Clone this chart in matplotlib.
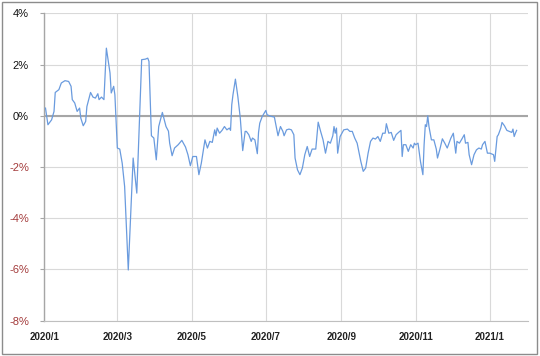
import matplotlib
matplotlib.use("Agg")
import matplotlib.pyplot as plt
import matplotlib.dates as mdates
from matplotlib.patches import Rectangle
import pandas as pd

# x values: days since 2020-01-01 ; y values: percent
day_offset = [1, 3, 6, 8, 9, 12, 14, 17, 20, 22, 23, 25, 27, 29, 30, 32, 34, 35, 38, 40,
              42, 44, 45, 47, 49, 51, 54, 55, 57, 58, 60, 62, 64, 66, 69, 73, 76, 80, 83, 85,
              86, 88, 90, 92, 94, 97, 100, 102, 103, 105, 107, 110, 113, 116, 118, 120, 122, 125, 127, 129,
              132, 134, 136, 138, 140, 141, 142, 144, 146, 148, 150, 152, 153, 154, 155, 157, 159, 161, 162, 163,
              165, 166, 168, 170, 171, 173, 175, 176, 177, 179, 182, 183, 185, 187, 189, 190, 192, 194, 196, 197,
              199, 201, 203, 205, 206, 208, 210, 212, 214, 216, 218, 220, 223, 225, 227, 229, 231, 233, 235, 237,
              238, 239, 240, 241, 243, 246, 249, 251, 253, 255, 257, 260, 262, 264, 266, 268, 270, 272, 274, 276,
              278, 280, 281, 283, 285, 287, 289, 291, 293, 294, 295, 297, 299, 301, 303, 304, 305, 307, 309, 311,
              312, 313, 314, 315, 316, 318, 320, 322, 323, 325, 327, 329, 331, 334, 336, 338, 339, 341, 343, 345,
              346, 348, 349, 351, 353, 355, 357, 359, 360, 362, 364, 366, 369, 370, 372, 373, 375, 376, 378, 380,
              382, 384, 385, 386, 387, 388]
value_pct = [0.30, -0.35, -0.16, 0.17, 0.91, 1.02, 1.28, 1.37, 1.34, 1.15, 0.63, 0.50, 0.17, 0.30, -0.09, -0.39, -0.22, 0.36, 0.91, 0.73,
             0.69, 0.86, 0.63, 0.73, 0.63, 2.64, 1.67, 0.89, 1.15, 0.82, -1.26, -1.30, -1.85, -2.76, -6.02, -1.65, -3.02, 2.19, 2.21, 2.25,
             2.12, -0.78, -0.87, -1.72, -0.42, 0.13, -0.42, -0.60, -1.07, -1.56, -1.26, -1.13, -0.96, -1.22, -1.52, -1.95, -1.59, -1.59, -2.30, -1.85,
             -0.94, -1.26, -1.00, -1.04, -0.55, -0.78, -0.48, -0.68, -0.57, -0.42, -0.55, -0.48, -0.57, 0.43, 0.82, 1.43, 0.75, -0.09, -0.74, -1.36,
             -0.61, -0.61, -0.74, -1.00, -0.87, -0.94, -1.48, -0.65, -0.29, -0.03, 0.21, 0.04, 0.00, -0.03, -0.05, -0.29, -0.78, -0.42, -0.61, -0.78,
             -0.55, -0.52, -0.55, -0.74, -1.65, -2.11, -2.30, -2.04, -1.52, -1.20, -1.59, -1.30, -1.30, -0.25, -0.61, -0.94, -1.46, -1.00, -1.07, -0.78,
             -0.42, -0.68, -0.48, -1.46, -0.81, -0.55, -0.52, -0.61, -0.61, -0.87, -1.07, -1.78, -2.17, -2.04, -1.46, -1.00, -0.87, -0.91, -0.81, -1.00,
             -0.68, -0.68, -0.31, -0.68, -0.65, -0.96, -0.74, -0.65, -0.57, -1.59, -1.13, -1.13, -1.39, -1.13, -1.26, -1.07, -1.13, -1.07, -1.78, -2.30,
             -1.13, -0.35, -0.42, 0.00, -0.42, -0.94, -0.94, -1.30, -1.65, -1.30, -0.90, -1.07, -1.26, -0.87, -0.68, -1.46, -1.00, -1.07, -0.91, -0.74,
             -1.07, -1.04, -1.52, -1.91, -1.52, -1.33, -1.26, -1.30, -1.13, -1.00, -1.46, -1.46, -1.52, -1.78, -0.81, -0.74, -0.48, -0.26, -0.39, -0.57,
             -0.61, -0.65, -0.52, -0.81, -0.68, -0.57]

x_tick_dates = ["2020-01-01", "2020-03-01", "2020-05-01", "2020-07-01", "2020-09-01", "2020-11-01", "2021-01-01"]
x_tick_labels = ["2020/1", "2020/3", "2020/5", "2020/7", "2020/9", "2020/11", "2021/1"]
y_ticks = [-8, -6, -4, -2, 0, 2, 4]
y_tick_labels = ["-8%", "-6%", "-4%", "-2%", "0%", "2%", "4%"]

dates = pd.Timestamp("2020-01-01") + pd.to_timedelta(day_offset, unit="D")

fig = plt.figure(figsize=(5.4, 3.56), dpi=100)
ax = fig.add_axes([0.082, 0.0992, 0.895, 0.8634])

ax.plot(dates, value_pct, color="#6A9BDE", lw=0.9, zorder=3)

ax.set_xlim(pd.Timestamp("2020-01-01"), pd.Timestamp("2021-02-01"))
ax.set_ylim(-8, 4)

ax.set_yticks(y_ticks)
ax.set_yticklabels(y_tick_labels, fontsize=8, family="Liberation Sans")
for lab, v in zip(ax.get_yticklabels(), y_ticks):
    lab.set_color("#A33A3A" if v < 0 else "#111111")

ax.set_xticks(pd.to_datetime(x_tick_dates))
ax.set_xticklabels(x_tick_labels, fontsize=7, family="Liberation Sans", fontweight="bold", color="#222222")

ax.grid(True, color="#D9D9D9", lw=0.8)
ax.set_axisbelow(True)
ax.axhline(0, color="#A6A6A6", lw=1.5, zorder=2)

for s in ["top", "right"]:
    ax.spines[s].set_visible(False)
ax.spines["left"].set_color("#A6A6A6")
ax.spines["bottom"].set_color("#BFBFBF")
ax.spines["left"].set_linewidth(1.0)
ax.spines["bottom"].set_linewidth(0.8)
ax.tick_params(axis="y", length=3, color="#A6A6A6", pad=8)
ax.tick_params(axis="x", length=0, pad=8)

fig.patches.append(Rectangle((0.003, 0.006), 0.992, 0.989, transform=fig.transFigure,
                             fill=False, edgecolor="#8C8C8C", lw=1.0))

fig.savefig("out.png", dpi=100)
